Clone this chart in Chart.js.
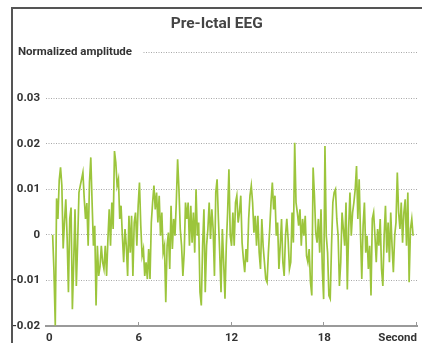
<!DOCTYPE html>
<html>
<head>
<meta charset="utf-8">
<script src="https://cdn.jsdelivr.net/npm/chart.js@4/dist/chart.umd.min.js"></script>
<style>
html, body { margin: 0; background: #fff; overflow: hidden; }
#frame { position: absolute; left: 11px; top: 7px; width: 409px; height: 334px; border-left: 2px solid #555; border-top: 2px solid #555; }
#wrap { position: absolute; left: 13px; top: 9px; width: 409px; height: 334px; }
</style>
</head>
<body>
<div id="frame"></div>
<div id="wrap"><canvas id="eegChart"></canvas></div>
<script>
const chartTitle = "Pre-Ictal EEG";
const yAxisLabel = "Normalized amplitude";
const xAxisLabel = "Second";
const xTicks = [0, 6, 12, 18, 24];
const yTicks = [-0.02, -0.01, 0, 0.01, 0.02, 0.03, 0.04];

// samples start at 0.43 s, one every 0.0851 s
const startTime = 0.43;
const sampleStep = 0.0851;
const amplitude = [
  0, -0.008, -0.0199, 0.008, 0.0035, 0.012, 0.0148, 0.0108, -0.003, 0.003, 0.0078, -0.0005, -0.0126, 0.0035, 0.006,
  -0.0163, -0.006, 0.0056, -0.0112, -0.0017, 0.0093, 0.0108, 0.0122, 0.0137, 0.008, 0.0035, 0.007, -0.0024, 0.0115,
  0.017, 0.007, -0.0024, 0.002, -0.0155, -0.0024, -0.009, -0.007, -0.0024, -0.006, -0.0075, -0.0024, -0.009, -0.001,
  0.0056, -0.0024, 0.0071, 0.0013, 0.0184, 0.0159, 0.0108, 0.0122, 0.0035, 0.0064, -0.0002, -0.006, 0.0013, -0.0024,
  -0.009, 0.0042, -0.0039, 0.0042, -0.009, 0.0027, 0.0049, -0.0024, 0.0064, 0.0115, 0.002, -0.0046, -0.0031, -0.009,
  -0.006, -0.0097, -0.0031, -0.0097, 0.0027, 0.0071, 0.0108, 0.0056, 0.0093, 0.0027, 0.0086, -0.0002, 0.0049, -0.0039,
  -0.0024, -0.0148, -0.0024, 0.0005,
  -0.0075, 0.0064, -0.0031, 0.0035, -0.0002, 0.0071, 0.0166, 0.01, 0.0013, -0.0024, -0.009, -0.0039, 0.0071, 0.0035,
  0.0071, -0.0024, 0.0064, -0.0017, 0.0049, -0.0039, 0.01, -0.0002, 0.0027, -0.0126, -0.0155, -0.0024, 0.0056, -0.0126,
  -0.0024, 0.0013, 0.0071, -0.0009, 0.0056, 0.0013, -0.009, 0.0093, 0.0122, 0.0035, -0.0039, -0.0126, 0.0013, -0.006,
  -0.014, -0.0024, 0.0049, 0.0144, -0.0002,
  -0.0024, 0.0049, -0.0024, 0.0071, 0.0086, 0.0027, 0.0049, 0.0086, -0.0017, -0.0053, -0.0082, -0.0031, -0.006, 0.0035,
  0.0086, 0.0108, 0.0071, 0.0005, 0.0042, -0.0024, 0.0042, -0.0039, -0.0075, 0.0035, -0.0024, -0.006, -0.0097, -0.0104,
  -0.0039, 0.0013, 0.0071, 0.0115, 0.0056, 0.0086, -0.0002, 0.0027, -0.0075, -0.0024, 0.0035, -0.006, -0.009, -0.0002,
  0.0035, -0.0009, -0.0075, -0.006,
  0.0049, -0.0017, 0.0202, 0.0071, 0.0049, 0.002, 0.0056, -0.0024, 0.0035, -0.0002, 0.0042, -0.0046, -0.006, -0.0031,
  -0.0104, -0.0133, 0.0148, 0.0086, 0.0005, -0.0017, 0.0035, -0.0039, 0.0056, -0.0075, -0.0141, 0.0195, -0.0002, -0.0039,
  -0.0133, -0.014, -0.0024, 0.0071, 0.0093, 0.01, 0.0035, -0.0002, -0.0112, -0.006, 0.0049, 0.0013, -0.0024, 0.0071,
  -0.012, 0.0013, 0.0093, -0.0002, 0.0049,
  0.0071, 0.01, 0.0151, 0.0035, 0.0122, 0.0005, -0.0097, 0.002, 0.0071, -0.0039, -0.0002, -0.0075, -0.0024, -0.0133,
  0.0035, 0.0049, -0.0002, -0.006, 0.0013, -0.0024, 0.0035, -0.0075, -0.0112, -0.0002, 0.0064, -0.0039, 0.0027, -0.006,
  0.0049, -0.0024, -0.0082, -0.0002, 0.0027, 0.0137, 0.0049, 0.0013, 0.0071, -0.0017, 0.0049, 0.0078, -0.0024, 0.0093,
  -0.0104, 0.0013, 0.0035, -0.0002
];

const FONT = "Roboto, 'Liberation Sans', sans-serif";
const topTick = yTicks[yTicks.length - 1];

// the top gridline carries the axis name instead of a number,
// and the x ticks point up into the plot
const extrasPlugin = {
  id: "extras",
  afterDraw(chart) {
    const ctx = chart.ctx;
    const y = chart.scales.y.getPixelForValue(topTick);
    ctx.save();
    ctx.font = "bold 11.5px " + FONT;
    const w = ctx.measureText(yAxisLabel).width;
    ctx.fillStyle = "#fff";
    ctx.fillRect(0, y - 8, 5 + w + 10, 16);
    ctx.fillStyle = "#333";
    ctx.textBaseline = "middle";
    ctx.fillText(yAxisLabel, 5, y);

    const xs = chart.scales.x;
    const bottom = chart.chartArea.bottom;
    ctx.strokeStyle = "#999";
    ctx.lineWidth = 1;
    xTicks.slice(1).forEach(t => {
      const px = Math.round(xs.getPixelForValue(t)) - 0.5;
      ctx.beginPath();
      ctx.moveTo(px, bottom - 4);
      ctx.lineTo(px, bottom);
      ctx.stroke();
    });
    ctx.restore();
  }
};

const points = amplitude.map((v, i) => ({ x: startTime + i * sampleStep, y: v }));

new Chart(document.getElementById("eegChart"), {
  type: "line",
  data: {
    datasets: [{
      data: points,
      borderColor: "#9cc53c",
      borderWidth: 1.7,
      pointRadius: 0,
      tension: 0,
      fill: false
    }]
  },
  options: {
    responsive: true,
    maintainAspectRatio: false,
    animation: false,
    layout: { padding: { left: 0, right: 1.5, top: 0, bottom: 0 } },
    plugins: {
      legend: { display: false },
      tooltip: { enabled: false },
      title: {
        display: true,
        text: chartTitle,
        color: "#444",
        font: { family: FONT, size: 15.5, weight: "bold" },
        padding: { top: 6, bottom: 19 }
      }
    },
    scales: {
      x: {
        type: "linear",
        min: 0,
        max: 24,
        afterBuildTicks: axis => { axis.ticks = xTicks.map(v => ({ value: v })); },
        afterFit: axis => { axis.height = 17; },
        grid: { display: false, drawTicks: false },
        border: { display: true, color: "#9a9a9a", width: 2 },
        ticks: {
          align: "inner",
          padding: 5,
          color: "#333",
          font: { family: FONT, size: 11.5, weight: "bold" },
          callback: v => (v === 24 ? xAxisLabel : String(v))
        }
      },
      y: {
        min: -0.02,
        max: 0.04,
        afterBuildTicks: axis => { axis.ticks = yTicks.map(v => ({ value: v })); },
        afterFit: axis => { axis.width = 33; },
        grid: { color: "#a8a8a8", lineWidth: 1, drawTicks: false },
        border: { display: false, dash: [1, 1.5] },
        ticks: {
          padding: 6,
          color: "#333",
          font: { family: FONT, size: 11.5, weight: "bold" },
          callback: v => {
            if (Math.abs(v - topTick) < 1e-9) return "";
            if (Math.abs(v) < 1e-9) return "0";
            return v.toFixed(2);
          }
        }
      }
    }
  },
  plugins: [extrasPlugin]
});
</script>
</body>
</html>
